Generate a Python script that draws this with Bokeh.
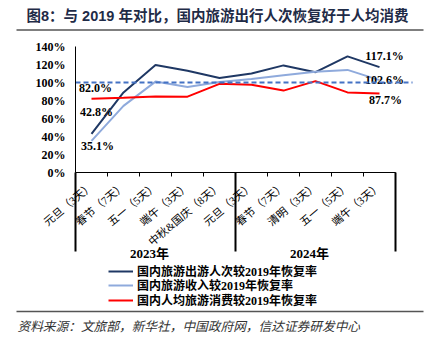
import math
from bokeh.plotting import figure
from bokeh.models import Range1d, LinearAxis, FixedTicker, Legend, LegendItem, Label
from bokeh.core.properties import value
from bokeh.embed import file_html
from bokeh.resources import INLINE

# ---------------- data ----------------
categories = ["元旦（3天）", "春节（7天）", "五一（5天）", "端午（3天）", "中秋&国庆（8天）",
              "元旦（3天）", "春节（7天）", "清明（3天）", "五一（5天）", "端午（3天）"]
years = ["2023年", "2024年"]
year_sizes = [5, 5]
trips = [42.8, 89.0, 119.5, 113.0, 105.0, 110.0, 119.0, 111.5, 129.0, 117.1]
revenue = [35.1, 74.0, 101.0, 95.0, 100.5, 104.0, 108.0, 112.0, 114.0, 102.6]
per_capita = [82.0, 83.0, 84.5, 84.3, 98.5, 97.5, 91.0, 101.5, 89.0, 87.7]
baseline = 100
series_names = ["国内旅游出游人次较2019年恢复率",
                "国内旅游收入较2019年恢复率",
                "国内人均旅游消费较2019年恢复率"]
y_ticks = [0, 20, 40, 60, 80, 100, 120, 140]
title_text = "图8：与 2019 年对比，国内旅游出行人次恢复好于人均消费"
source_text = "资料来源：文旅部，新华社，中国政府网，信达证券研发中心"

# ---------------- geometry (pixels) ----------------
W, H = 444, 344
LEFT_PX = 75.0      # left edge of category area
CAT_PX = 32.0       # width of one category
ZERO_PY = 172.0     # pixel row of 0 %
PY_PER_PCT = 0.9    # pixels per percent


def X(px):
    return (px - LEFT_PX) / CAT_PX - 0.5


def Y(py):
    return (ZERO_PY - py) / PY_PER_PCT


n = len(categories)
xs = list(range(n))

p = figure(width=W, height=H, output_backend="svg", toolbar_location=None,
           x_range=Range1d(X(0), X(W)), y_range=Range1d(Y(H), Y(0)),
           x_axis_type=None, y_axis_type=None,
           min_border=0, min_border_left=0, min_border_right=0,
           min_border_top=0, min_border_bottom=0)
p.title.visible = False
p.outline_line_color = None
p.background_fill_color = "white"
p.border_fill_color = "white"
p.xgrid.visible = False
p.ygrid.visible = False

SERIF = "Liberation Serif, Noto Sans CJK SC"
SANS = "Liberation Sans, Noto Sans CJK SC"

# ---------------- axes ----------------
yaxis = LinearAxis(fixed_location=-0.5, bounds=(0, y_ticks[-1]),
                   ticker=FixedTicker(ticks=y_ticks, minor_ticks=[]),
                   major_label_overrides={t: f"{t}%" for t in y_ticks})
yaxis.major_tick_out = 0
yaxis.major_tick_in = 0
yaxis.minor_tick_out = 0
yaxis.minor_tick_in = 0
yaxis.major_label_standoff = 10
yaxis.axis_line_color = "black"
yaxis.axis_line_width = 1
yaxis.major_label_text_font = SERIF
yaxis.major_label_text_font_style = "bold"
yaxis.major_label_text_font_size = "12px"
yaxis.major_label_text_color = "black"
p.add_layout(yaxis, "left")

xaxis = LinearAxis(fixed_location=0, bounds=(-0.5, n - 0.5),
                   ticker=FixedTicker(ticks=xs, minor_ticks=[i - 0.5 for i in range(n + 1)]),
                   major_label_overrides={i: c for i, c in enumerate(categories)})
xaxis.major_tick_out = 0
xaxis.major_tick_in = 0
xaxis.minor_tick_out = 4
xaxis.minor_tick_in = 0
xaxis.minor_tick_line_color = "black"
xaxis.axis_line_color = "black"
xaxis.major_label_orientation = 0.70
xaxis.major_label_standoff = 8
xaxis.major_label_text_font = SERIF
xaxis.major_label_text_font_size = "11px"
xaxis.major_label_text_color = "black"
p.add_layout(xaxis, "below")

# group separators and year labels
sep_bottom = Y(251)
bounds = [-0.5]
for s in year_sizes:
    bounds.append(bounds[-1] + s)
p.segment(x0=bounds, y0=[0] * len(bounds), x1=bounds, y1=[sep_bottom] * len(bounds),
          line_color="black", line_width=2)
for i, yr in enumerate(years):
    cx = (bounds[i] + bounds[i + 1]) / 2
    p.add_layout(Label(x=cx, y=Y(253), x_offset=-6, text=yr, text_align="center",
                       text_baseline="middle",
                       text_font=SERIF, text_font_style="bold", text_font_size="13px",
                       text_color="black"))

# ---------------- series ----------------
r1 = p.line(xs, trips, line_color="#1F3864", line_width=2)
r2 = p.line(xs, revenue, line_color="#8FAADC", line_width=2)
r3 = p.line(xs, per_capita, line_color="#FF0000", line_width=2)

# data labels (first and last point of each series)
lab_specs = [
    (trips, 0, 5, -22), (trips, n - 1, 5, -11),
    (revenue, 0, 6, 5), (revenue, n - 1, 5, 0),
    (per_capita, 0, 4, -11), (per_capita, n - 1, 6, 6),
]
for series, idx, dx, dy in lab_specs:
    p.text(x=[xs[idx]], y=[series[idx]], text=[f"{series[idx]:.1f}%"],
           x_offset=dx, y_offset=dy, text_align="center", text_baseline="middle",
           text_font=value(SERIF), text_font_style="bold", text_font_size="12px",
           text_color="black")

# 100 % reference line
p.segment(x0=[-0.5], y0=[baseline], x1=[X(412)], y1=[baseline],
          line_color="#4472C4", line_width=2, line_dash="5 3")

# ---------------- legend (one entry per row) ----------------
ITEM_H = 19.5
row_centers = [270, 284.5, 299]
for name, rend, cy in zip(series_names, [r1, r2, r3], row_centers):
    lg = Legend(items=[LegendItem(label=name, renderers=[rend])],
                location=(108, H - cy - ITEM_H / 2), orientation="vertical",
                padding=0, margin=0, spacing=0, glyph_width=25, glyph_height=14,
                label_height=14, label_standoff=4,
                border_line_color=None, background_fill_alpha=0)
    lg.label_text_font = SERIF
    lg.label_text_font_style = "bold"
    lg.label_text_font_size = "12px"
    lg.label_text_color = "black"
    p.add_layout(lg, "center")

# ---------------- title, rules, source ----------------
p.add_layout(Label(x=X(26), y=Y(15), text=title_text, text_align="left", text_baseline="middle",
                   text_font=SANS, text_font_style="bold", text_font_size="14.5px",
                   text_color="#1F2B47"))
p.segment(x0=[X(16)], y0=[Y(29.5)], x1=[X(423)], y1=[Y(29.5)], line_color="#555555", line_width=1.5)
p.segment(x0=[X(16)], y0=[Y(311)], x1=[X(423)], y1=[Y(311)], line_color="#555555", line_width=1.5)
p.add_layout(Label(x=X(17), y=Y(325), text=source_text, text_align="left", text_baseline="middle",
                   text_font="Noto Sans CJK SC", text_font_style="italic", text_font_size="12.7px",
                   text_color="#333333"))

open("out.html", "w").write(file_html(p, INLINE))
